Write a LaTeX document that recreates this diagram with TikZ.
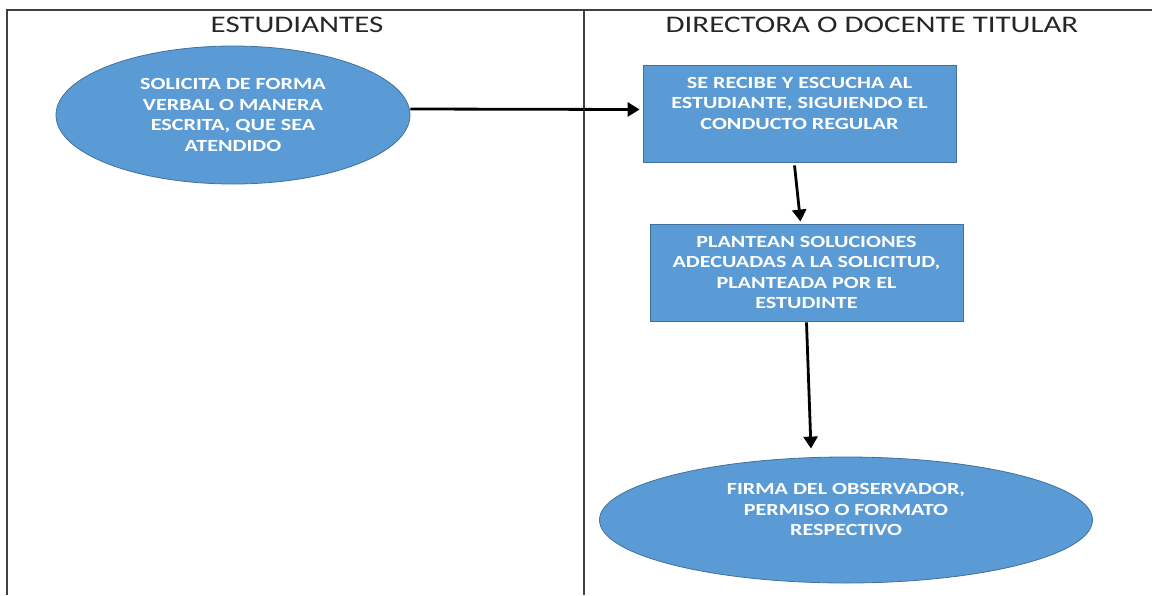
\documentclass[tikz,border=0pt]{standalone}
\usepackage{fontspec}
\setmainfont[FakeStretch=1.3]{Carlito}
\usetikzlibrary{arrows.meta,shapes.geometric}

\definecolor{azul}{HTML}{5B9BD5}
\definecolor{borde}{HTML}{41719C}

\begin{document}
\begin{tikzpicture}[x=1pt,y=-1pt,>={Triangle[length=12pt,width=14pt]},
  elipse/.style={ellipse,fill=azul,draw=borde,line width=0.8pt,text=white,align=center,inner sep=0pt,font=\fontsize{17}{20.5}\selectfont\bfseries},
  caja/.style={rectangle,fill=azul,draw=borde,line width=0.8pt,text=white,align=center,inner sep=0pt,minimum width=313pt,minimum height=97pt,font=\fontsize{17}{20.5}\selectfont\bfseries},
  titulo/.style={font=\fontsize{23.8}{28}\selectfont,text=black!85},
  flecha/.style={->,line width=2.8pt},
  carril/.style={line width=1.6pt,draw=black!75}]

\useasboundingbox (0,0) rectangle (1152,595);

% carriles
\draw[carril] (7,595) -- (7,10) -- (1152,10);
\draw[carril] (584,10) -- (584,595);

\node[titulo] (t1) at (297,25) {ESTUDIANTES};
\node[titulo] (t2) at (872,25) {DIRECTORA O DOCENTE TITULAR};

\node[elipse,minimum width=354pt,minimum height=138pt] (sol) at (233,115) {SOLICITA DE FORMA\\VERBAL O MANERA\\ESCRITA, QUE SEA\\ATENDIDO};
\node[caja] (rec) at (799.5,113.5) {SE RECIBE Y ESCUCHA AL\\ESTUDIANTE, SIGUIENDO EL\\CONDUCTO REGULAR\\\mbox{}};
\node[caja] (pla) at (806.5,272.5) {PLANTEAN SOLUCIONES\\ADECUADAS A LA SOLICITUD,\\PLANTEADA POR EL\\ESTUDINTE};
\node[elipse,minimum width=493pt,minimum height=126pt] (fir) at (846,520) {FIRMA DEL OBSERVADOR,\\PERMISO O FORMATO\\RESPECTIVO\\\mbox{}};

\draw[flecha] ([shift={(0,-6)}]sol.east) -- ([shift={(-3,-4)}]rec.west);
\draw[flecha] ([shift={(-5,3)}]rec.south) -- ([shift={(-6,-2)}]pla.north);
\draw[flecha] ([shift={(0,1)}]pla.south) -- ([shift={(-35,-8)}]fir.north);

\end{tikzpicture}
\end{document}
